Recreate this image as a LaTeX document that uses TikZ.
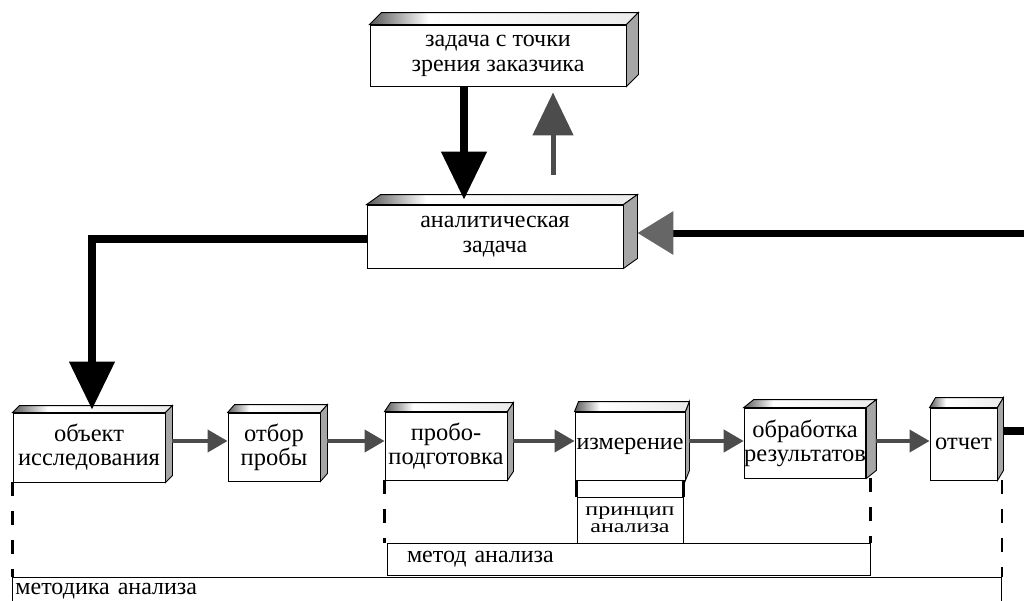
\documentclass[tikz,border=0pt]{standalone}
\usepackage{fontspec}
\setmainfont{Liberation Serif}
\usepackage{graphicx}
\usetikzlibrary{arrows.meta}
\pgfdeclarehorizontalshading{topshade}{100bp}{color(0bp)=(black!65); color(25bp)=(black!65); color(36bp)=(white); color(75bp)=(black!8); color(100bp)=(black!8)}
\begin{document}
\begin{tikzpicture}[x=1pt,y=-1pt,
  blk/.style={draw,line width=0.9pt,fill=white,align=center,inner sep=0pt,font=\fontsize{24}{25}\selectfont},
  rowblk/.style={blk,font=\fontsize{24.5}{24}\selectfont},
  topface/.style={draw,line width=0.9pt,shading=topshade},
  sideface/.style={draw,line width=0.9pt,fill=black!35},
  bigarrow/.style={line width=8pt,-{Triangle[length=48pt,width=44pt]}},
  uparrow/.style={line width=5pt,black!70,-{Triangle[length=43pt,width=40pt]}},
  backarrow/.style={line width=7pt,-{Triangle[length=36pt,width=42pt,color=black!60]}},
  smallarrow/.style={line width=4pt,black!70,-{Triangle[length=20pt,width=22pt]}},
  thickline/.style={line width=8pt},
  tick/.style={line width=2.5pt},
  dashtick/.style={tick,dash pattern=on 14pt off 15pt}]
\useasboundingbox (0,0) rectangle (1024,600);
\clip (0,0) rectangle (1024,600);
%boxes
\node[blk,minimum width=256pt,minimum height=61pt] (zadacha) at (498,55.5) {задача с точки\\зрения заказчика};
\node[blk,minimum width=256pt,minimum height=63pt] (analit) at (495,236.5) {аналитическая\\задача};
\node[rowblk,minimum width=152pt,minimum height=69pt] (obj) at (89,447.5) {объект\\исследования};
\node[rowblk,minimum width=92pt,minimum height=68pt] (otbor) at (274,447) {отбор\\пробы};
\node[rowblk,minimum width=122pt,minimum height=68pt] (probo) at (446,446) {пробо-\\подготовка};
\node[blk,minimum width=110pt,minimum height=68pt] (izmer) at (630,446) {измерение};
\node[rowblk,minimum width=120pt,minimum height=70pt] (obrab) at (805,443) {обработка\\результатов};
\node[rowblk,minimum width=67pt,minimum height=72pt] (otchet) at (963.5,444) {отчет};
\foreach \n/\dx/\dy in {zadacha/12/12,analit/14/10,obj/7/7,otbor/7/8,probo/6/9,izmer/4/10,obrab/10/8,otchet/6/10}{
  \draw[topface] (\n.north west) -- ++(\dx,-\dy) -- ([shift={(\dx,-\dy)}]\n.north east) -- (\n.north east) -- cycle;
  \draw[sideface] (\n.north east) -- ++(\dx,-\dy) -- ([shift={(\dx,-\dy)}]\n.south east) -- (\n.south east) -- cycle;
}
%spans
\node[blk,minimum width=106pt,minimum height=46pt] (printsip) at (630,520) {\scalebox{1}[0.78]{\begin{tabular}{@{}c@{}}принцип\\[-3pt]анализа\end{tabular}}};
\node[blk,text width=443pt,inner xsep=20pt,align=left,minimum height=32pt] (metod) at (628.5,559) {метод анализа};
\node[blk,text width=983pt,inner xsep=3pt,align=left,minimum height=27pt,anchor=north west] (metodika) at (12,577) {методика анализа};
\draw[dashtick] (obj.south west) -- (obj.south west |- metodika.north);
\draw[dashtick] (probo.south west) -- (probo.south west |- metod.north);
\draw[dashtick] (metod.north east |- obrab.south) -- (metod.north east);
\draw[dashtick] (metodika.north east |- otchet.south) -- (metodika.north east);
\draw[tick] (printsip.north west |- izmer.south) -- (printsip.north west);
\draw[tick] (printsip.north east |- izmer.south) -- (printsip.north east);
%arrows
\coordinate (row) at (0,441);
\coordinate (fbin) at (1024,233);
\coordinate (fbout) at (1024,431);
\draw[bigarrow] ([xshift=-34pt]zadacha.south) -- ([xshift=-31pt,yshift=5pt]analit.north);
\draw[uparrow] ([xshift=58pt,yshift=30pt]analit.north) -- ([xshift=55pt,yshift=-6pt]zadacha.south);
\draw[bigarrow] ([yshift=-2pt]analit.west) -| ([xshift=3pt,yshift=3pt]obj.north);
\draw[backarrow] (fbin) -- ([xshift=14pt,yshift=3.5pt]analit.east);
\draw[thickline] ([xshift=6pt,yshift=13pt]otchet.east) -- (fbout);
\foreach \a/\b/\d in {obj/otbor/7,otbor/probo/7,probo/izmer/6,izmer/obrab/4,obrab/otchet/10}
  \draw[smallarrow] ([xshift=\d pt]\a.east |- row) -- (\b.west |- row);
\end{tikzpicture}
\end{document}
